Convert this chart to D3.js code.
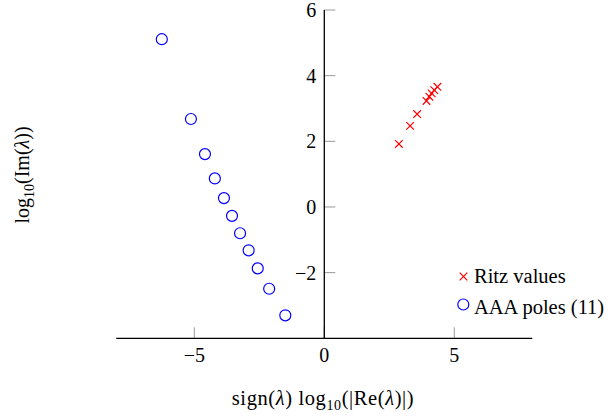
<!DOCTYPE html>
<html>
<head>
<meta charset="utf-8">
<script src="https://cdn.jsdelivr.net/npm/d3@7"></script>
<style>
body { margin: 0; background: #fff; }
</style>
</head>
<body>
<script>
var w = 611, h = 416;
var serif = "'Liberation Serif', 'Times New Roman', serif";

// AAA poles (blue circles)
var polesX = [-6.25, -5.13, -4.59, -4.21, -3.86, -3.55, -3.24, -2.91, -2.56, -2.12, -1.50];
var polesY = [5.11, 2.68, 1.61, 0.87, 0.27, -0.27, -0.80, -1.32, -1.87, -2.49, -3.30];
// Ritz values (red crosses)
var ritzX = [2.87, 3.30, 3.57, 3.93, 4.04, 4.13, 4.23, 4.35];
var ritzY = [1.92, 2.47, 2.83, 3.23, 3.36, 3.46, 3.56, 3.66];

var xTicks = [-5, 0, 5];
var yTicks = [-2, 0, 2, 4, 6];
var legendLabels = ["Ritz values", "AAA poles (11)"];

var svg = d3.select("body").append("svg").attr("width", w).attr("height", h)
    .attr("font-family", serif);

var xScale = d3.scaleLinear().domain([-8, 8]).range([116.3, 532.3]);
var yScale = d3.scaleLinear().domain([-4, 6]).range([338.3, 10]);

var fmt = function (d) { return d < 0 ? "\u2212" + Math.abs(d) : String(d); };

// ticks (gray, pointing inward)
svg.selectAll(".xt").data(xTicks).enter().append("line")
    .attr("x1", function (d) { return xScale(d); })
    .attr("x2", function (d) { return xScale(d); })
    .attr("y1", yScale(-4)).attr("y2", yScale(-4) - 11)
    .style("stroke", "#999").style("stroke-width", 1);

svg.selectAll(".yt").data(yTicks).enter().append("line")
    .attr("x1", xScale(0)).attr("x2", xScale(0) + 11)
    .attr("y1", function (d) { return yScale(d); })
    .attr("y2", function (d) { return yScale(d); })
    .style("stroke", "#999").style("stroke-width", 1);

// axis lines
svg.append("line").attr("x1", xScale(-8)).attr("x2", xScale(8))
    .attr("y1", yScale(-4)).attr("y2", yScale(-4))
    .style("stroke", "#000").style("stroke-width", 1.3);
svg.append("line").attr("x1", xScale(0)).attr("x2", xScale(0))
    .attr("y1", yScale(-4)).attr("y2", yScale(6))
    .style("stroke", "#000").style("stroke-width", 1.3);

// tick labels
svg.selectAll(".xl").data(xTicks).enter().append("text")
    .attr("x", function (d) { return xScale(d); })
    .attr("y", 362)
    .attr("text-anchor", "middle")
    .style("font-family", serif).style("font-size", "20px")
    .text(fmt);

svg.selectAll(".yl").data(yTicks).enter().append("text")
    .attr("x", xScale(0) - 8)
    .attr("y", function (d) { return yScale(d) + 7; })
    .attr("text-anchor", "end")
    .style("font-family", serif).style("font-size", "20px")
    .text(fmt);

// axis labels
var xl = svg.append("text").attr("x", 323).attr("y", 405)
    .attr("text-anchor", "middle").style("font-family", serif).style("font-size", "20.5px")
    .style("letter-spacing", "0.6px");
xl.append("tspan").text("sign(");
xl.append("tspan").style("font-style", "italic").text("\u03bb");
xl.append("tspan").text(") log");
xl.append("tspan").attr("dy", 5).style("font-size", "14px").text("10");
xl.append("tspan").attr("dy", -5).text("(|Re(");
xl.append("tspan").style("font-style", "italic").text("\u03bb");
xl.append("tspan").text(")|)");

var yl = svg.append("text").attr("transform", "translate(29,175) rotate(-90)")
    .attr("text-anchor", "middle").style("font-family", serif).style("font-size", "20px");
yl.append("tspan").text("log");
yl.append("tspan").attr("dy", 5).style("font-size", "14px").text("10");
yl.append("tspan").attr("dy", -5).text("(Im(");
yl.append("tspan").style("font-style", "italic").text("\u03bb");
yl.append("tspan").text("))");

// AAA poles
svg.selectAll(".pole").data(polesX).enter().append("circle")
    .attr("cx", function (d) { return xScale(d); })
    .attr("cy", function (d, i) { return yScale(polesY[i]); })
    .attr("r", 5.5)
    .style("fill", "none").style("stroke", "#0000ff").style("stroke-width", 1.2);

// Ritz values
var cross = function (x, y, s) {
    return "M" + (x - s) + "," + (y - s) + "L" + (x + s) + "," + (y + s) +
        "M" + (x - s) + "," + (y + s) + "L" + (x + s) + "," + (y - s);
};
svg.selectAll(".ritz").data(ritzX).enter().append("path")
    .attr("d", function (d, i) { return cross(xScale(d), yScale(ritzY[i]), 3.8); })
    .style("fill", "none").style("stroke", "#ff0000").style("stroke-width", 1.2);

// legend
svg.append("path").attr("d", cross(463.5, 276.5, 3.8))
    .style("fill", "none").style("stroke", "#ff0000").style("stroke-width", 1.2);
svg.append("circle").attr("cx", 463.3).attr("cy", 304.5).attr("r", 5.5)
    .style("fill", "none").style("stroke", "#0000ff").style("stroke-width", 1.2);
svg.selectAll(".lg").data(legendLabels).enter().append("text")
    .attr("x", 474).attr("y", function (d, i) { return 283 + i * 31; })
    .style("font-family", serif).style("font-size", "20.5px")
    .text(function (d) { return d; });
</script>
</body>
</html>
